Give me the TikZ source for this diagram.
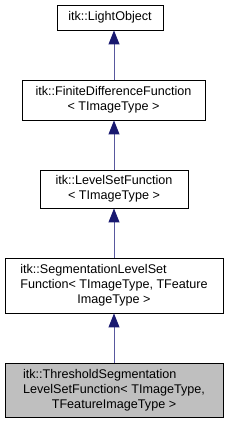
\documentclass[tikz,border=0pt]{standalone}
\usepackage{fontspec}
\setmainfont{Liberation Sans}
\usetikzlibrary{arrows.meta}
\definecolor{edgeblue}{RGB}{25,25,112}
\definecolor{edgeline}{RGB}{88,88,158}
\definecolor{curgray}{RGB}{191,191,191}

\begin{document}
\begin{tikzpicture}[x=1pt, y=-1pt,
        classbox/.style={draw=black, line width=0.9pt, inner sep=0pt, align=center,
                font=\fontsize{12.6}{15}\selectfont},
        current/.style={classbox, fill=curgray},
        inherit/.style={draw=edgeline, line width=1pt,
                -{Triangle[length=14pt, width=11pt, color=edgeblue]}}]
        \useasboundingbox (0, 0) rectangle (228, 424);

        \node [classbox, minimum width=106pt, minimum height=25pt] (light) at (110, 17.5) {itk::LightObject};
        \node [classbox, minimum width=183pt, minimum height=40pt] (finite) at (113.5, 100) {itk::FiniteDifferenceFunction\\{< TImageType >}};
        \node [classbox, minimum width=148pt, minimum height=38pt] (levelset) at (114, 189) {itk::LevelSetFunction\\{< TImageType >}};
        \node [classbox, minimum width=218pt, minimum height=55pt] (segment) at (114, 285.5)
                {\begin{tabular}{@{}l@{}}itk::SegmentationLevelSet\\Function< TImageType, TFeature\\\multicolumn{1}{@{}c@{}}{ImageType >}\end{tabular}};
        \node [current, minimum width=218pt, minimum height=54pt] (threshold) at (114, 390)
                {\begin{tabular}{@{}l@{}}itk::ThresholdSegmentation\\LevelSetFunction< TImageType,\\\multicolumn{1}{@{}c@{}}{TFeatureImageType >}\end{tabular}};

        \draw [inherit] (finite.north -| levelset.north) -- (light.south -| levelset.north);
        \draw [inherit] (levelset.north) -- (finite.south -| levelset.north);
        \draw [inherit] (segment.north) -- (levelset.south);
        \draw [inherit] (threshold.north) -- (segment.south);
    \end{tikzpicture}
\end{document}
